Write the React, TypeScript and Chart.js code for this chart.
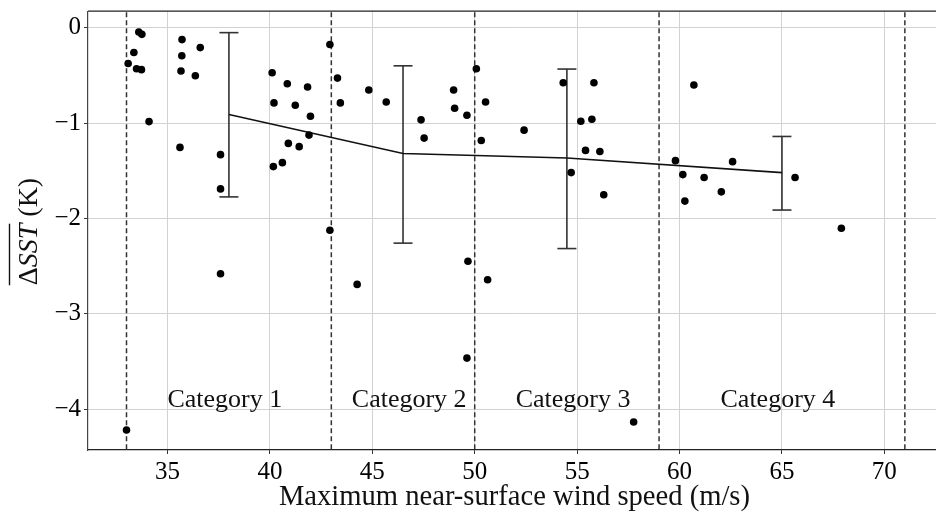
import React, { useEffect, useRef } from "react";
import { Chart, registerables } from "chart.js";

Chart.register(...registerables);

// ---- data ----
const windSpeed = [
  33.0, 33.08, 33.36, 33.49, 33.6, 33.73, 33.75, 34.1, 35.61, 35.66, 35.7, 35.71, 36.36, 36.6,
  37.59, 37.59, 37.59, 40.11, 40.17, 40.2, 40.61, 40.85, 40.9, 41.24, 41.43, 41.84, 41.91, 41.98,
  42.93, 42.93, 43.3, 43.44, 44.26, 44.83, 45.68, 47.38, 47.53, 48.97, 49.02, 49.62, 49.62, 49.67,
  50.08, 50.32, 50.53, 50.63, 52.41, 54.32, 54.71, 55.18, 55.41, 55.72, 55.82, 56.11, 56.3, 57.76,
  59.8, 60.16, 60.26, 60.7, 61.2, 62.04, 62.59, 65.64, 67.9,
];
const deltaSST = [
  -4.22, -0.376, -0.26, -0.43, -0.045, -0.44, -0.07, -0.985, -1.256, -0.455, -0.295, -0.125, -0.504, -0.209,
  -1.332, -1.691, -2.581, -0.473, -1.457, -0.789, -1.416, -0.588, -1.214, -0.814, -1.248, -0.622, -1.127, -0.929,
  -0.177, -2.125, -0.529, -0.789, -2.693, -0.654, -0.779, -0.967, -1.158, -0.654, -0.845, -0.918, -3.466, -2.45,
  -0.431, -1.183, -0.779, -2.644, -1.075, -0.577, -1.52, -0.981, -1.287, -0.96, -0.577, -1.298, -1.753, -4.137,
  -1.395, -1.541, -1.819, -0.601, -1.572, -1.722, -1.405, -1.572, -2.104,
];

const meanWind = [38, 46.5, 54.5, 65];
const meanSST = [-0.911, -1.32, -1.367, -1.52];
const errUpper = [-0.052, -0.4, -0.434, -1.141];
const errLower = [-1.775, -2.26, -2.317, -1.913];

const categoryBounds = [33, 43, 50, 59, 71];
const categoryNames = ["Category 1", "Category 2", "Category 3", "Category 4"];
const categoryLabelX = [35, 44, 52, 62];
const categoryLabelY = -3.98;

const xTicks = [35, 40, 45, 50, 55, 60, 65, 70];
const yTicks = [0, -1, -2, -3, -4];
const X_MIN = 31.12;
const X_MAX = 72.76;
const Y_MIN = -4.43;
const Y_MAX = 0.174;

const xTitle = "Maximum near-surface wind speed (m/s)";
const yTitleParts = [
  { t: "\u0394", italic: false, over: true },
  { t: "SST", italic: true, over: true },
  { t: " (K)", italic: false, over: false },
];

const serif = "'Liberation Serif', 'Times New Roman', Times, serif";

const annotationPlugin = {
  id: "annotations",
  afterDraw(chart: any) {
    const { ctx, chartArea, scales } = chart;
    const xs = scales.x;
    const ys = scales.y;
    ctx.save();
    // top spine
    ctx.strokeStyle = "#222";
    ctx.lineWidth = 1.2;
    ctx.beginPath();
    ctx.moveTo(chartArea.left, chartArea.top);
    ctx.lineTo(chartArea.right, chartArea.top);
    ctx.stroke();

    // category labels
    ctx.fillStyle = "#111";
    ctx.font = `26px ${serif}`;
    ctx.textAlign = "left";
    ctx.textBaseline = "alphabetic";
    categoryNames.forEach((name, i) => {
      ctx.fillText(name, xs.getPixelForValue(categoryLabelX[i]), ys.getPixelForValue(categoryLabelY));
    });

    // x title
    ctx.font = `28.6px ${serif}`;
    ctx.textAlign = "center";
    ctx.fillText(xTitle, (chartArea.left + chartArea.right) / 2, 505);

    // y title (rotated)
    ctx.translate(36.5, (chartArea.top + chartArea.bottom) / 2 + 1);
    ctx.rotate(-Math.PI / 2);
    ctx.textAlign = "left";
    const widths = yTitleParts.map((p) => {
      ctx.font = `${p.italic ? "italic " : ""}28px ${serif}`;
      return ctx.measureText(p.t).width;
    });
    const total = widths.reduce((a, b) => a + b, 0);
    let cx = -total / 2;
    let overStart = cx;
    let overEnd = cx;
    yTitleParts.forEach((p, i) => {
      ctx.font = `${p.italic ? "italic " : ""}28px ${serif}`;
      ctx.fillText(p.t, cx, 0);
      cx += widths[i];
      if (p.over) overEnd = cx;
    });
    ctx.strokeStyle = "#111";
    ctx.lineWidth = 1.4;
    ctx.beginPath();
    ctx.moveTo(overStart, -27);
    ctx.lineTo(overEnd, -27);
    ctx.stroke();
    ctx.restore();
  },
};

export default function App() {
  const canvasRef = useRef<HTMLCanvasElement | null>(null);

  useEffect(() => {
    if (!canvasRef.current) return;

    const datasets: any[] = [];

    // scatter points
    datasets.push({
      type: "scatter",
      data: windSpeed.map((x, i) => ({ x, y: deltaSST[i] })),
      pointBackgroundColor: "#000",
      pointBorderWidth: 0,
      pointRadius: 3.8,
      order: 0,
    });

    // mean line
    datasets.push({
      type: "line",
      data: meanWind.map((x, i) => ({ x, y: meanSST[i] })),
      borderColor: "#111",
      borderWidth: 1.6,
      pointRadius: 0,
      tension: 0,
      order: 1,
    });

    // error bar stems
    meanWind.forEach((x, i) => {
      datasets.push({
        type: "line",
        data: [
          { x, y: errUpper[i] },
          { x, y: errLower[i] },
        ],
        borderColor: "#333",
        borderWidth: 1.6,
        pointRadius: 0,
        order: 2,
      });
    });

    // error bar caps
    datasets.push({
      type: "scatter",
      data: meanWind.flatMap((x, i) => [
        { x, y: errUpper[i] },
        { x, y: errLower[i] },
      ]),
      pointStyle: "line",
      pointRadius: 9.5,
      pointBorderColor: "#333",
      pointBorderWidth: 1.6,
      pointBackgroundColor: "#333",
      order: 2,
    });

    // category boundary dashed lines
    categoryBounds.forEach((b) => {
      datasets.push({
        type: "line",
        data: [
          { x: b, y: Y_MIN - 1 },
          { x: b, y: Y_MAX + 1 },
        ],
        borderColor: "#333",
        borderWidth: 1.5,
        borderDash: [5, 3],
        pointRadius: 0,
        order: 3,
      });
    });

    const chart = new Chart(canvasRef.current, {
      type: "scatter",
      data: { datasets },
      plugins: [annotationPlugin],
      options: {
        animation: false,
        responsive: false,
        devicePixelRatio: 1,
        events: [],
        layout: { padding: { left: 0, top: 9, right: 8, bottom: 0 } },
        plugins: {
          legend: { display: false },
          tooltip: { enabled: false },
        },
        scales: {
          x: {
            type: "linear",
            min: X_MIN,
            max: X_MAX,
            afterBuildTicks: (scale: any) => {
              scale.ticks = xTicks.map((v) => ({ value: v }));
            },
            afterFit: (scale: any) => {
              scale.height = 65;
              scale.paddingLeft = 0;
              scale.paddingRight = 0;
              scale.paddingTop = 0;
              scale.paddingBottom = 0;
            },
            ticks: {
              font: { family: serif, size: 25 },
              color: "#000",
              padding: 3,
              maxRotation: 0,
              autoSkip: false,
              callback: (v: any) => String(v),
            },
            grid: {
              color: "#d2d2d2",
              lineWidth: 1,
              tickColor: "#333",
              tickLength: 4,
              tickWidth: 1,
            },
            border: { display: true, color: "#222", width: 1.2 },
          },
          y: {
            type: "linear",
            min: Y_MIN,
            max: Y_MAX,
            afterBuildTicks: (scale: any) => {
              scale.ticks = yTicks.map((v) => ({ value: v }));
            },
            afterFit: (scale: any) => {
              scale.width = 88;
              scale.paddingLeft = 0;
              scale.paddingRight = 0;
              scale.paddingTop = 0;
              scale.paddingBottom = 0;
            },
            ticks: {
              font: { family: serif, size: 25 },
              color: "#000",
              padding: 3,
              autoSkip: false,
              callback: (v: any) => (v < 0 ? "\u2212" + String(Math.abs(v)) : String(v)),
            },
            grid: {
              color: "#d2d2d2",
              lineWidth: 1,
              tickColor: "#333",
              tickLength: 4,
              tickWidth: 1,
            },
            border: { display: true, color: "#444", width: 1.2 },
          },
        },
      },
    } as any);

    return () => chart.destroy();
  }, []);

  return (
    <div
      style={{
        position: "fixed",
        left: 0,
        top: 0,
        width: 936,
        height: 515,
        overflow: "hidden",
        background: "#fff",
      }}
    >
      <canvas ref={canvasRef} width={952} height={515} style={{ display: "block", width: 952, height: 515 }} />
    </div>
  );
}
